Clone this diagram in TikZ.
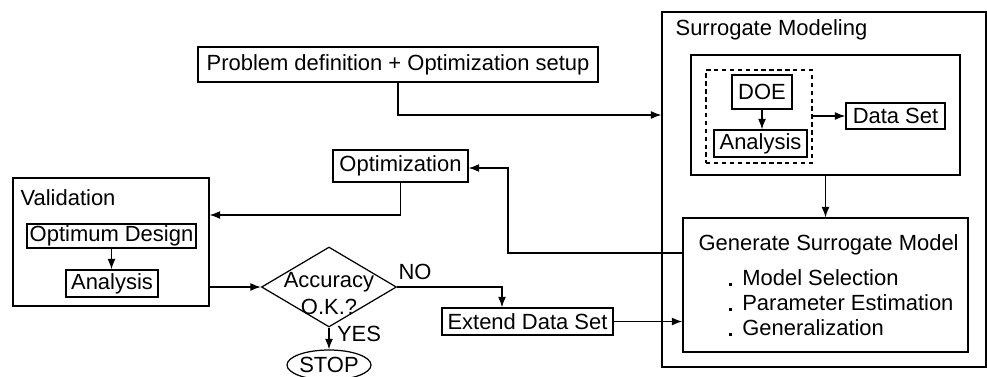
\documentclass[tikz,border=0pt]{standalone}
\usepackage{fontspec}
\setmainfont{Liberation Sans}
\usetikzlibrary{shapes.geometric,arrows.meta}
\begin{document}
\begin{tikzpicture}[x=0.02cm, y=-0.02cm, font=\fontsize{12.5}{14.2}\selectfont, line width=0.7pt, >={Latex[length=6pt,width=4.5pt]},
	box/.style={draw, inner sep=1pt},
	lbl/.style={inner sep=0pt}]
	\def\dot{\rule{1.8pt}{1.8pt}\hspace{6pt}}
	\useasboundingbox (0,0) rectangle (987,376);
	% surrogate modeling
	\node[box, minimum width=6.48cm, minimum height=7.1cm] (sm) at (824,189.5) {};
	\node[lbl, anchor=west] (smt) at (675,30) {Surrogate Modeling};
	\node[box, minimum width=5.38cm, minimum height=2.4cm] (top) at (825.5,115) {};
	\node[box, dashed, dash pattern=on 2.5pt off 2pt, minimum width=2.12cm, minimum height=1.86cm] (doebox) at (759,116.5) {};
	\node[box, minimum width=1.2cm, minimum height=0.68cm] (doe) at (762,92) {DOE};
	\node[box, minimum width=1.86cm, minimum height=0.54cm] (ana2) at (760.5,143.5) {Analysis};
	\node[box, minimum width=1.98cm, minimum height=0.52cm] (data) at (895.5,116) {Data Set};
	\node[box, minimum width=5.7cm, minimum height=2.68cm] (gen) at (825.5,285) {};
	\node[lbl, anchor=west] (gent) at (698,245) {Generate Surrogate Model};
	\node[lbl, anchor=west, align=left] (genl) at (728,303) {\dot Model Selection\\\dot Parameter Estimation\\\dot Generalization};
	% left part
	\node[box, minimum width=8cm, minimum height=0.7cm] (prob) at (398,64.5) {Problem definition + Optimization setup};
	\node[box, minimum width=2.7cm, minimum height=0.64cm] (opt) at (400.5,166) {Optimization};
	\node[box, minimum width=3.92cm, minimum height=2.56cm] (val) at (111,242) {};
	\node[lbl, anchor=west] (valt) at (20,198) {Validation};
	\node[box, minimum width=3.38cm, minimum height=0.48cm] (ods) at (111.5,236) {Optimum Design};
	\node[box, minimum width=1.84cm, minimum height=0.54cm] (ana1) at (112,283.5) {Analysis};
	\node[draw, diamond, minimum width=2.7cm, minimum height=1.6cm, inner sep=0pt] (acc) at (329,287) {};
	\node[lbl, align=center, font=\fontsize{12.5}{15.3}\selectfont] (acct) at (329,293.5) {Accuracy\\O.K.?};
	\node[box, minimum width=3.42cm, minimum height=0.54cm] (ext) at (527.5,321.5) {Extend Data Set};
	\node[draw, ellipse, minimum width=1.58cm, minimum height=0.6cm, inner sep=0pt] (stop) at (329,365) {STOP};
	\node[lbl] (no) at (415,272) {NO};
	\node[lbl] (yes) at (359,334) {YES};
	\coordinate (bend) at (508,253);
	% arrows
	\draw[->] (prob.south) |- (sm.west |- top);
	\draw[->] (doe.south) -- (doe.south |- ana2.north);
	\draw[->] (doebox.east |- data) -- (data.west);
	\draw[->] (top.south) -- (top.south |- gen.north);
	\draw[->] (gen.west |- bend) -- (bend) |- ([yshift=-0.04cm]opt.east);
	\draw[->] (opt.south) |- ([yshift=0.54cm]val.east);
	\draw[->] (ods.south) -- (ods.south |- ana1.north);
	\draw[->] (val.east |- acc.west) -- (acc.west);
	\draw[->] (acc.east) -| ([xshift=-0.51cm]ext.north);
	\draw[->] (ext.east) -- (ext.east -| gen.west);
	\draw[->] (acc.south) -- (stop.north);
\end{tikzpicture}
\end{document}
